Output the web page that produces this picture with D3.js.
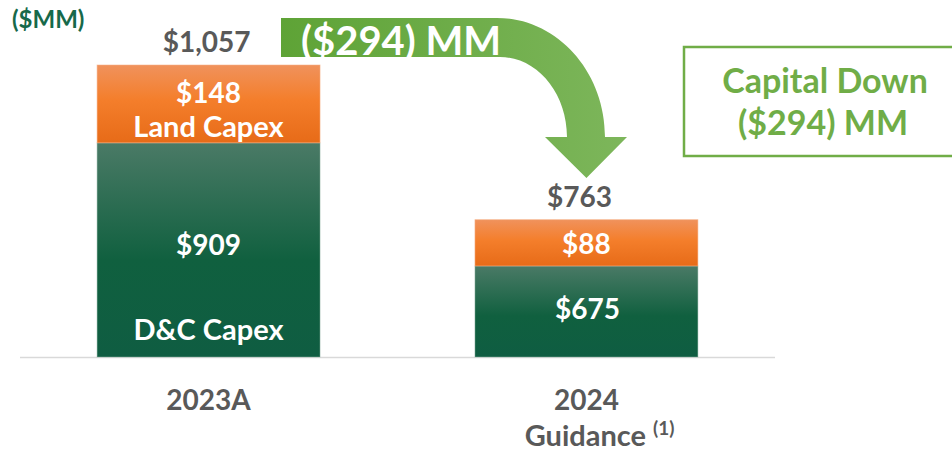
<!DOCTYPE html>
<html><head><meta charset="utf-8">
<script src="https://cdn.jsdelivr.net/npm/d3@7"></script>
<style>body{margin:0;background:#fff}svg{display:block}text{font-family:Lato,"Open Sans",sans-serif;font-weight:700}</style>
</head><body><svg id="c" width="952" height="452"></svg>
<script>
const categories = ["2023A", "2024"];
const dcCapex = [909, 675];
const landCapex = [148, 88];
const totals = [1057, 763];
const unitLabel = "($MM)";
const changeLabel = "($294) MM";

const svg = d3.select("#c");
const x = d3.scaleBand().domain(categories).range([20, 775]).paddingInner(0.41).paddingOuter(0.204);
const y = d3.scaleLinear().domain([502, 1057]).range([357, 65]);

const defs = svg.append("defs");
function vgrad(id, stops){
  const g = defs.append("linearGradient").attr("id", id).attr("x1",0).attr("y1",0).attr("x2",0).attr("y2",1);
  stops.forEach(s => g.append("stop").attr("offset", s[0]).attr("stop-color", s[1]));
}
vgrad("gGreen", [[0,"#4a7a66"],[0.55,"#10603f"],[1,"#0f5d42"]]);
vgrad("gOrange", [[0,"#f0925c"],[0.45,"#f47e2b"],[1,"#e76b18"]]);
const ag = defs.append("linearGradient").attr("id","gArrow").attr("x1",0).attr("y1",0).attr("x2",1).attr("y2",0);
ag.append("stop").attr("offset",0).attr("stop-color","#5ea336");
ag.append("stop").attr("offset",1).attr("stop-color","#7db65b");

// baseline
svg.append("line").attr("x1",20).attr("x2",775).attr("y1",y(502)+0.5).attr("y2",y(502)+0.5)
  .attr("stroke","#d9d9d9").attr("stroke-width",1.5);

const data = categories.map((c,i)=>({c, dc:dcCapex[i], land:landCapex[i], total:totals[i]}));

// green segments
svg.selectAll("rect.dc").data(data).join("rect").attr("class","dc")
  .attr("x", d=>x(d.c)).attr("width", x.bandwidth())
  .attr("y", d=>y(d.dc)).attr("height", d=>y(502)-y(d.dc))
  .attr("fill","url(#gGreen)").attr("stroke","#8fb3a3").attr("stroke-width",0.8).attr("stroke-opacity",0.6);
// orange segments
svg.selectAll("rect.land").data(data).join("rect").attr("class","land")
  .attr("x", d=>x(d.c)).attr("width", x.bandwidth())
  .attr("y", d=>y(d.dc+d.land)).attr("height", d=>y(d.dc)-y(d.dc+d.land))
  .attr("fill","url(#gOrange)").attr("stroke","#f7b088").attr("stroke-width",0.8).attr("stroke-opacity",0.7);

const cx = d => x(d.c) + x.bandwidth()/2;
const fmt = v => "$" + d3.format(",")(v);

// totals
svg.selectAll("text.tot").data(data).join("text").attr("class","tot")
  .attr("x", (d,i)=>cx(d) + (i===0?-2:-7)).attr("y", d=>y(d.total)-13)
  .attr("text-anchor","middle").attr("font-size",28).attr("fill","#595959").text(d=>fmt(d.total));

// segment labels
const w = "#ffffff";
const d0 = data[0], d1 = data[1];
svg.append("text").attr("x",cx(d0)).attr("y",(y(d0.dc+d0.land)+y(d0.dc))/2-1).attr("text-anchor","middle")
  .attr("font-size",28).attr("fill",w).text(fmt(d0.land));
svg.append("text").attr("x",cx(d0)).attr("y",(y(d0.dc+d0.land)+y(d0.dc))/2+33).attr("text-anchor","middle")
  .attr("font-size",29).attr("fill",w).text("Land Capex");
svg.append("text").attr("x",cx(d0)).attr("y",(y(d0.dc)+y(502))/2+5).attr("text-anchor","middle")
  .attr("font-size",28).attr("fill",w).text(fmt(d0.dc));
svg.append("text").attr("x",cx(d0)).attr("y",y(502)-17).attr("text-anchor","middle")
  .attr("font-size",29).attr("fill",w).text("D&C Capex");
svg.append("text").attr("x",cx(d1)).attr("y",(y(d1.dc+d1.land)+y(d1.dc))/2+11).attr("text-anchor","middle")
  .attr("font-size",28).attr("fill",w).text(fmt(d1.land));
svg.append("text").attr("x",cx(d1)+1).attr("y",(y(d1.dc)+y(502))/2+8).attr("text-anchor","middle")
  .attr("font-size",28).attr("fill",w).text(fmt(d1.dc));

// category labels
svg.append("text").attr("x",cx(d0)).attr("y",410).attr("text-anchor","middle").attr("font-size",28)
  .attr("fill","#595959").text(categories[0]);
svg.append("text").attr("x",cx(d1)).attr("y",410).attr("text-anchor","middle").attr("font-size",28)
  .attr("fill","#595959").text(categories[1]);
svg.append("text").attr("x",cx(d1)-1).attr("y",446).attr("text-anchor","middle").attr("font-size",29)
  .attr("fill","#595959").text("Guidance");
svg.append("text").attr("x",653).attr("y",435).attr("font-size",19)
  .attr("fill","#595959").text("(1)");

// unit label
svg.append("text").attr("x",12).attr("y",28).attr("font-size",24).attr("fill","#17694a").text(unitLabel);

// curved arrow
const tipX = cx(d1);
const p = d3.path();
p.moveTo(281,18);
p.lineTo(497,18);
p.bezierCurveTo(497+108*0.5523,18, 605,137-119*0.5523, 605,137);
p.lineTo(627,137);
p.lineTo(tipX,178);
p.lineTo(545,137);
p.lineTo(567,137);
p.bezierCurveTo(567,137-80*0.5523, 500+67*0.5523,57, 500,57);
p.lineTo(281,57);
p.closePath();
svg.append("path").attr("d",p.toString()).attr("fill","url(#gArrow)");
svg.append("text").attr("x",301).attr("y",55).attr("font-size",40).attr("fill","#ffffff").text(changeLabel);

// callout box
svg.append("rect").attr("x",684).attr("y",47).attr("width",300).attr("height",109)
  .attr("fill","#fff").attr("stroke","#70ad47").attr("stroke-width",2.5);
svg.append("text").attr("x",825).attr("y",93).attr("text-anchor","middle").attr("font-size",34)
  .attr("fill","#70ad47").text("Capital Down");
svg.append("text").attr("x",823).attr("y",135).attr("text-anchor","middle").attr("font-size",34)
  .attr("fill","#70ad47").text(changeLabel);
</script></body></html>
